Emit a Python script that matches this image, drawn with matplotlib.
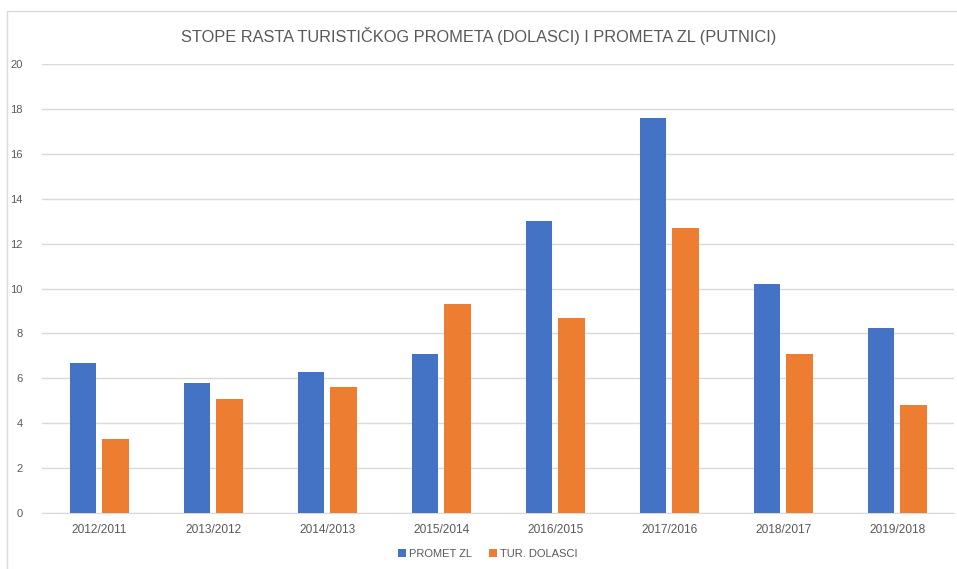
import matplotlib.pyplot as plt
import numpy as np
from matplotlib.patches import Rectangle

categories = ['2012/2011', '2013/2012', '2014/2013', '2015/2014',
              '2016/2015', '2017/2016', '2018/2017', '2019/2018']
promet_zl = [6.7, 5.8, 6.3, 7.1, 13.0, 17.6, 10.2, 8.25]
tur_dolasci = [3.3, 5.1, 5.6, 9.3, 8.7, 12.7, 7.1, 4.8]

plt.rcParams['font.family'] = ['Liberation Sans', 'DejaVu Sans']

fig = plt.figure(figsize=(9.57, 5.69), dpi=100)
fig.patches.append(Rectangle((0.007, -0.01), 0.999, 0.99, transform=fig.transFigure,
                             fill=False, edgecolor='#d9d9d9', linewidth=1))
ax = fig.add_axes([0.044, 0.0984, 0.953, 0.789])

x = np.arange(len(categories))
w = 0.23
ax.bar(x - 0.143, promet_zl, w, color='#4472c4', label='PROMET ZL', zorder=3)
ax.bar(x + 0.143, tur_dolasci, w, color='#ed7d31', label='TUR. DOLASCI', zorder=3)

ax.set_xlim(-0.5, len(categories) - 0.5)
ax.set_ylim(0, 20)
ax.set_yticks(range(0, 21, 2))
ax.set_xticks(x)
ax.set_xticklabels(categories)
ax.grid(axis='y', color='#d9d9d9', linewidth=1, zorder=0)
for s in ['top', 'right', 'left']:
    ax.spines[s].set_visible(False)
ax.spines['bottom'].set_color('#d9d9d9')
ax.tick_params(length=0, labelsize=8.6, colors='#595959', pad=8)
ax.tick_params(axis='y', labelsize=8, pad=14)

fig.suptitle('STOPE RASTA TURISTIČKOG PROMETA (DOLASCI) I PROMETA ZL (PUTNICI)',
             y=0.952, fontsize=11.8, color='#595959')
fig.legend(loc='lower center', bbox_to_anchor=(0.51, 0.0), ncol=2, frameon=False,
           fontsize=8, labelcolor='#595959', handlelength=0.7, handleheight=0.7,
           columnspacing=1.5, handletextpad=0.3)

fig.savefig('out.png', dpi=100)
